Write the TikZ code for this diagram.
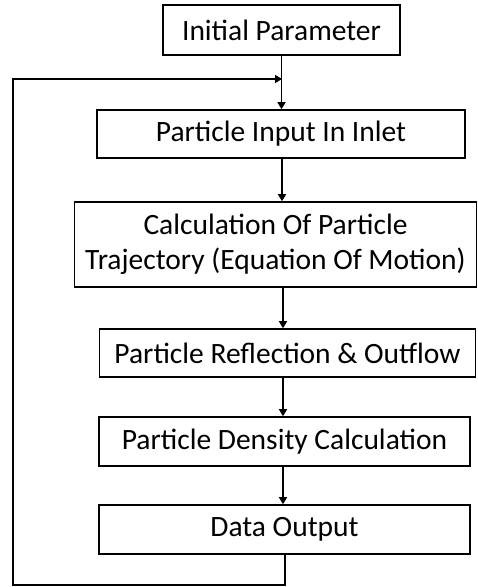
\documentclass[tikz,border=0pt]{standalone}
\usepackage{fontspec}
\setmainfont{Carlito}
\usetikzlibrary{arrows.meta}
\begin{document}
\begin{tikzpicture}[x=1pt,y=-1pt,
  box/.style={draw=black,line width=1.6pt,rectangle,inner sep=0pt,align=center,
    font=\fontsize{29.5}{35}\selectfont},
  link/.style={line width=1.5pt,-{Triangle[length=7pt,width=8pt]}},
  loopline/.style={line width=2pt}]
\useasboundingbox (0,0) rectangle (478,587);
\node[box,minimum width=237pt,minimum height=50pt] (init) at (281.5,30) {Initial Parameter};
\node[box,minimum width=368pt,minimum height=48pt] (input) at (281,134) {Particle Input In Inlet};
\node[box,minimum width=402pt,minimum height=85pt] (calc) at (275.5,244.5) {Calculation Of Particle\\Trajectory (Equation Of Motion)};
\node[box,minimum width=376pt,minimum height=48pt] (refl) at (287.5,353) {Particle Reflection \& Outflow};
\node[box,minimum width=371pt,minimum height=49pt] (dens) at (284.5,441.5) {Particle Density Calculation};
\node[box,minimum width=371pt,minimum height=49pt] (data) at (284.5,529.5) {Data Output};
\coordinate (join) at (282,79);
\coordinate (lb) at (13,585);
\coordinate (lt) at (13,79);
\draw[link] (init.south) -- (init.south |- input.north);
\draw[link] (282,158) coordinate (ia) -- (ia |- calc.north);
\draw[link] (283,287) coordinate (ca) -- (ca |- refl.north);
\draw[link] (283,377) coordinate (ra) -- (ra |- dens.north);
\draw[link] (283,466) coordinate (da) -- (da |- data.north);
\draw[loopline] (data.south) -- (data.south |- lb) -- (lb) -- (lt) -- (join);
\draw[link] (lt) -- (join);
\end{tikzpicture}
\end{document}
